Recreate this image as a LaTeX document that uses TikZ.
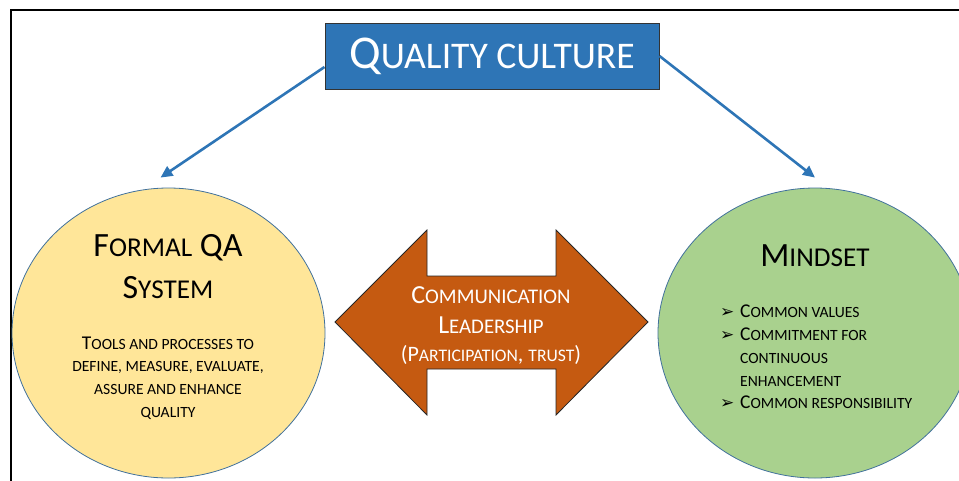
\documentclass[tikz,border=0pt]{standalone}
\usepackage{fontspec}
\setmainfont{Carlito}
\newfontfamily\symfont{DejaVu Sans}
\usetikzlibrary{arrows.meta,shapes.geometric}

\definecolor{titleblue}{HTML}{2E75B6}
\definecolor{qayellow}{HTML}{FFE699}
\definecolor{mindgreen}{HTML}{A9D18E}
\definecolor{commorange}{HTML}{C55A11}
\definecolor{rimblue}{HTML}{41719C}

\newcommand\lc[1]{\scalebox{0.8}{\MakeUppercase{#1}}}
\newcommand\bul{\makebox[20pt][l]{\symfont\fontsize{17}{17}\selectfont ➢}}

\begin{document}
\begin{tikzpicture}[x=1pt,y=-1pt,
    titlebox/.style={draw=black!80,line width=1pt,fill=titleblue,text=white,
      minimum width=334pt,minimum height=66pt,font=\fontsize{47}{47}\selectfont},
    blob/.style={ellipse,draw=rimblue,line width=0.8pt,inner sep=0pt},
    conn/.style={draw=titleblue,line width=2.6pt,-{Triangle[length=12pt,width=11pt]}},
    head/.style={anchor=base,font=\fontsize{34}{34}\selectfont},
    body/.style={anchor=base,inner sep=0pt,font=\fontsize{19.5}{19.5}\selectfont},
    commtext/.style={anchor=base,text=white,font=\fontsize{26}{26}\selectfont}]

  \useasboundingbox (0,0) rectangle (959,480);
  \clip (0,0) rectangle (959,480);

  % frame
  \draw[line width=2pt] (11,1000) -- (11,10) -- (1000,10);

  % title
  \node[titlebox] (title) at (492,56) {Q\lc{uality culture}};

  % the two circles
  \node[blob,fill=qayellow,minimum width=313pt,minimum height=290pt] (formal) at (168.5,333) {};
  \node[blob,fill=mindgreen,minimum width=314pt,minimum height=290pt] (mindset) at (815,333) {};

  % double arrow in the middle
  \draw[fill=commorange,draw=black!85,line width=0.8pt]
    (335,322) -- (427,230) -- (427,276) -- (556,276) -- (556,230) -- (648,322)
    -- (556,415) -- (556,369) -- (427,369) -- (427,415) -- cycle;

  % connectors
  \draw[conn] ([yshift=-11pt]title.west) -- ([shift={(-8,-10)}]mindset.north -| formal.north);
  \draw[conn] (title.east) -- ([yshift=10pt]mindset.north);

  % left circle text
  \node[head] (fq1) at (168,256) {F\lc{ormal} QA};
  \node[head] (fq2) at (168,298) {S\lc{ystem}};
  \foreach \t [count=\i] in {{T\lc{ools and processes to}},{\lc{define, measure, evaluate,}},
      {\lc{assure and enhance}},{\lc{quality}}}
    \node[body] (fqt\i) at (168,{326.3+22.7*\i}) {\t};

  % right circle text
  \node[head] (ms) at (815,266) {M\lc{indset}};
  \node[body,anchor=base west] (ms1) at (720,317) {\bul C\lc{ommon values}};
  \node[body,anchor=base west] (ms2) at (720,340) {\bul C\lc{ommitment for}};
  \node[body,anchor=base west] (ms3) at (740,363) {\lc{continuous}};
  \node[body,anchor=base west] (ms4) at (740,386) {\lc{enhancement}};
  \node[body,anchor=base west] (ms5) at (720,408) {\bul C\lc{ommon responsibility}};

  % middle text
  \node[commtext] (comm1) at (491,303) {C\lc{ommunication}};
  \node[commtext] (comm2) at (491,333) {L\lc{eadership}};
  \node[commtext,font=\fontsize{22}{22}\selectfont] (comm3) at (491,361) {(P\lc{articipation}, \lc{trust})};

\end{tikzpicture}
\end{document}
